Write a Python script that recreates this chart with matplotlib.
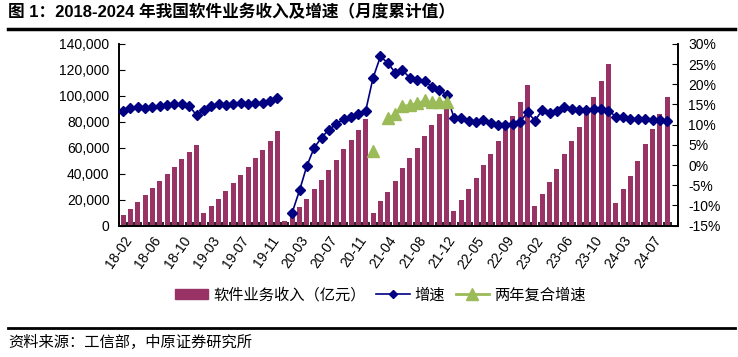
import numpy as np
import matplotlib
matplotlib.use("Agg")
import matplotlib.pyplot as plt
from matplotlib.lines import Line2D
from matplotlib.patches import Patch
from matplotlib.ticker import FuncFormatter, FixedLocator

plt.rcParams['font.family'] = ['Liberation Sans', 'Noto Sans CJK SC', 'DejaVu Sans']

# ---- data (cumulative, 亿元 / %) ----
months = [
    "18-02", "18-03", "18-04", "18-05", "18-06", "18-07", "18-08", "18-09", "18-10", "18-11", "18-12",
    "19-02", "19-03", "19-04", "19-05", "19-06", "19-07", "19-08", "19-09", "19-10", "19-11", "19-12",
    "20-01", "20-02", "20-03", "20-04", "20-05", "20-06", "20-07", "20-08", "20-09", "20-10", "20-11", "20-12",
    "21-02", "21-03", "21-04", "21-05", "21-06", "21-07", "21-08", "21-09", "21-10", "21-11", "21-12",
    "22-02", "22-03", "22-04", "22-05", "22-06", "22-07", "22-08", "22-09", "22-10", "22-11", "22-12",
    "23-02", "23-03", "23-04", "23-05", "23-06", "23-07", "23-08", "23-09", "23-10", "23-11", "23-12",
    "24-02", "24-03", "24-04", "24-05", "24-06", "24-07", "24-08", "24-09", "24-10",
]
revenue = [
    8240, 12870, 18020, 23170, 29090, 34490, 39380, 45300, 50970, 56370, 62290,
    9270, 14670, 20590, 26260, 32950, 38870, 45050, 52000, 58430, 64870, 72840,
    3500, 9300, 14160, 20590, 27800, 35010, 42470, 50450, 58950, 66150, 73360, 82110,
    9780, 18790, 25480, 34490, 44530, 52000, 59970, 69240, 77480, 85970, 93440,
    11580, 19820, 27800, 36550, 46590, 54830, 64870, 75930, 84690, 95240, 108620,
    14670, 24450, 33460, 43760, 55340, 64870, 75930, 88800, 99100, 111450, 124320,
    17250, 28060, 38350, 49420, 62550, 74130, 86230, 99100, None,
]
growth = [
    13.4, 14.1, 14.3, 14.2, 14.3, 14.7, 14.8, 15.0, 15.2, 14.7, 12.3,
    13.7, 14.6, 15.0, 14.8, 15.0, 15.3, 15.0, 15.4, 15.4, 15.8, 16.6,
    None, -11.8, -6.3, -0.2, 4.3, 6.8, 8.8, 10.1, 11.5, 11.8, 12.7, 13.5,
    21.6, 26.9, 25.3, 22.9, 23.5, 21.6, 21.1, 20.8, 19.4, 18.6, 17.4,
    11.7, 11.7, 10.9, 10.7, 11.2, 10.5, 10.0, 9.8, 10.1, 10.7, 13.1,
    11.0, 13.6, 13.0, 13.4, 14.3, 13.8, 13.7, 13.7, 13.9, 14.0, 13.5,
    12.0, 11.8, 11.5, 11.5, 11.4, 11.2, 11.2, 10.9, None,
]
# two-year compound growth, only shown for 2021
cagr_2y = {
    "21-02": 3.5, "21-04": 11.6, "21-05": 12.6, "21-06": 14.7, "21-07": 14.9,
    "21-08": 15.4, "21-09": 16.0, "21-10": 15.5, "21-11": 15.7, "21-12": 15.7,
}

BAR_C = "#993366"
LINE_C = "#000080"
TRI_C = "#9BBB59"

x = np.arange(len(months))
rev = np.array([np.nan if v is None else v for v in revenue], dtype=float)
gr = np.array([np.nan if v is None else v for v in growth], dtype=float)
cg = np.array([cagr_2y.get(m, np.nan) for m in months], dtype=float)

fig = plt.figure(figsize=(7.38, 3.57), dpi=100)
ax = fig.add_axes([0.1617, 0.3683, 0.7574, 0.5085])
ax.bar(x, np.nan_to_num(rev), width=0.68, color=BAR_C, zorder=2)
ax.set_xlim(-0.5, len(months) - 0.5)
ax.set_ylim(0, 140000)
ax.set_yticks(range(0, 140001, 20000))
ax.yaxis.set_major_formatter(FuncFormatter(lambda v, p: f"{int(v):,}"))

ax2 = ax.twinx()
ax2.plot(x, gr, color=LINE_C, lw=1.2, marker="D", ms=5.5, zorder=3)
ax2.plot(x, cg, color=TRI_C, lw=1.2, marker="^", ms=8, zorder=4)
ax2.set_ylim(-15, 30)
ax2.set_yticks(range(-15, 31, 5))
ax2.yaxis.set_major_formatter(FuncFormatter(lambda v, p: f"{int(v)}%"))

# x ticks: labels every 4 months, small marks between categories
ax.set_xticks(x[::4])
ax.set_xticklabels(months[::4], rotation=55, ha="right", va="top",
                   rotation_mode="anchor", fontsize=10)
ax.tick_params(axis="x", which="major", length=0, pad=6)
ax.xaxis.set_minor_locator(FixedLocator(np.arange(-0.5, len(months), 1.0)))
ax.tick_params(axis="x", which="minor", direction="in", length=3, width=1.2, color="black")
ax.tick_params(axis="y", direction="in", length=4, labelsize=10, pad=7)
ax2.tick_params(axis="y", direction="in", length=4, labelsize=10, pad=7)

for a in (ax, ax2):
    a.spines["top"].set_visible(False)
    for s in ("left", "right", "bottom"):
        a.spines[s].set_linewidth(1.2)
        a.spines[s].set_color("black")

handles = [
    Patch(color=BAR_C),
    Line2D([], [], color=LINE_C, lw=1.2, marker="D", ms=4),
    Line2D([], [], color=TRI_C, lw=2, marker="^", ms=8),
]
fig.legend(handles, ["软件业务收入（亿元）", "增速", "两年复合增速"],
           loc="center", bbox_to_anchor=(0.515, 1 - 295 / 357), ncol=3,
           frameon=False, fontsize=11, handlelength=2.2, columnspacing=0.7,
           handletextpad=0.3)

fig.text(8 / 738, 1 - 12 / 357, "图 1：2018-2024 年我国软件业务收入及增速（月度累计值）",
         fontsize=12, fontweight="bold", va="center", ha="left")
fig.add_artist(Line2D([8 / 738, 735 / 738], [1 - 29 / 357] * 2, color="black", lw=2.5))
fig.add_artist(Line2D([8 / 738, 735 / 738], [1 - 328 / 357] * 2, color="black", lw=2))
fig.text(8 / 738, 1 - 342 / 357, "资料来源：工信部，中原证券研究所",
         fontsize=11, va="center", ha="left", family=["Noto Sans CJK SC"])

fig.savefig("out.png", dpi=100)
